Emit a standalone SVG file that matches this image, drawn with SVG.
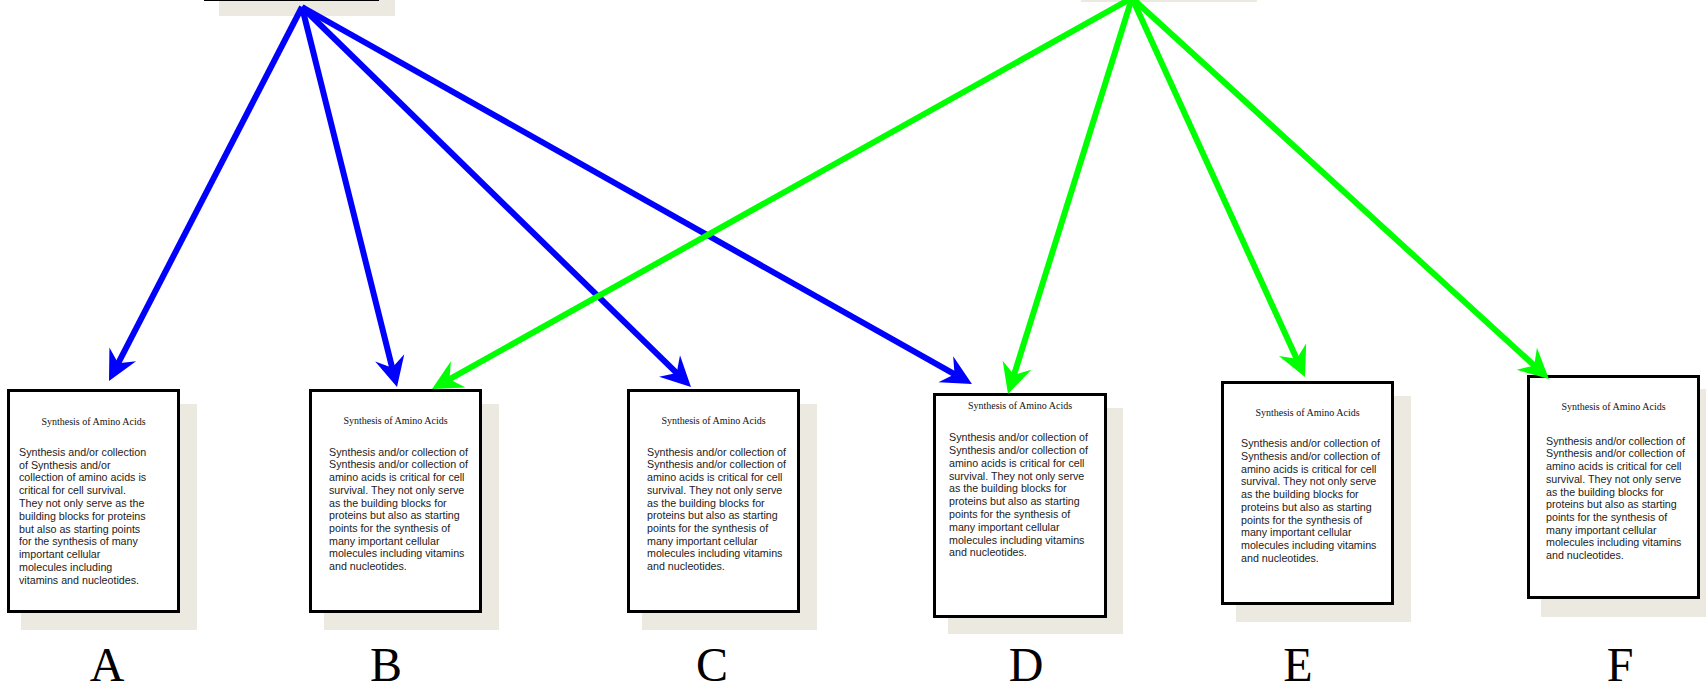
<svg xmlns="http://www.w3.org/2000/svg" width="1706" height="685" viewBox="0 0 1706 685">
<style>
.bg{fill:#ffffff}
.shadow{fill:#ECEAE0}
.box{fill:#ffffff;stroke:#000000;stroke-width:3}
.title{font-family:"Liberation Serif","Times New Roman",serif;font-size:10px;fill:#111;text-anchor:middle}
.body{font-family:"Liberation Sans",Arial,sans-serif;font-size:10.7px;fill:#222}
.label{font-family:"Liberation Serif","Times New Roman",serif;font-size:48px;fill:#000;text-anchor:middle}
.blue{stroke:#0000ff;stroke-width:6;fill:none;marker-end:url(#ab)}
.green{stroke:#00ff00;stroke-width:6;fill:none;marker-end:url(#ag)}
</style>
<defs>
<marker id="ab" markerUnits="userSpaceOnUse" orient="auto" refX="0" refY="0" markerWidth="60" markerHeight="60" overflow="visible"><path d="M12,0 L-18,-15 L-8,0 L-18,15 Z" fill="#0000ff"/></marker>
<marker id="ag" markerUnits="userSpaceOnUse" orient="auto" refX="0" refY="0" markerWidth="60" markerHeight="60" overflow="visible"><path d="M12,0 L-18,-15 L-8,0 L-18,15 Z" fill="#00ff00"/></marker>
</defs>
<rect class="bg" x="0" y="0" width="1706" height="685"/>

<g id="top-left">
<rect class="shadow" x="219" y="-210" width="176" height="226"/>
<rect class="box" x="205.5" y="-220" width="172" height="219.5"/>
</g>
<g id="top-right">
<rect class="shadow" x="1081" y="-224" width="176" height="226"/>
<rect class="box" x="1067.5" y="-236" width="172" height="221"/>
</g>

<g id="node-A">
<rect class="shadow" x="21" y="404" width="176" height="226"/>
<rect class="box" x="8.5" y="390.5" width="170" height="221"/>
<text class="title" x="93.5" y="425">Synthesis of Amino Acids</text>
<text class="body" x="19" y="455.7"><tspan x="19">Synthesis and/or collection</tspan><tspan x="19" dy="12.8">of Synthesis and/or</tspan><tspan x="19" dy="12.8">collection of amino acids is</tspan><tspan x="19" dy="12.8">critical for cell survival.</tspan><tspan x="19" dy="12.8">They not only serve as the</tspan><tspan x="19" dy="12.8">building blocks for proteins</tspan><tspan x="19" dy="12.8">but also as starting points</tspan><tspan x="19" dy="12.8">for the synthesis of many</tspan><tspan x="19" dy="12.8">important cellular</tspan><tspan x="19" dy="12.8">molecules including</tspan><tspan x="19" dy="12.8">vitamins and nucleotides.</tspan></text>
<text class="label" x="107" y="681">A</text>
</g>

<g id="node-B">
<rect class="shadow" x="324" y="404" width="175" height="226"/>
<rect class="box" x="310.5" y="390.5" width="170" height="221"/>
<text class="title" x="395.5" y="424">Synthesis of Amino Acids</text>
<text class="body" x="329" y="455.7"><tspan x="329">Synthesis and/or collection of</tspan><tspan x="329" dy="12.7">Synthesis and/or collection of</tspan><tspan x="329" dy="12.7">amino acids is critical for cell</tspan><tspan x="329" dy="12.7">survival. They not only serve</tspan><tspan x="329" dy="12.7">as the building blocks for</tspan><tspan x="329" dy="12.7">proteins but also as starting</tspan><tspan x="329" dy="12.7">points for the synthesis of</tspan><tspan x="329" dy="12.7">many important cellular</tspan><tspan x="329" dy="12.7">molecules including vitamins</tspan><tspan x="329" dy="12.7">and nucleotides.</tspan></text>
<text class="label" x="386" y="681">B</text>
</g>

<g id="node-C">
<rect class="shadow" x="642" y="404" width="175" height="226"/>
<rect class="box" x="628.5" y="390.5" width="170" height="221"/>
<text class="title" x="713.5" y="423.5">Synthesis of Amino Acids</text>
<text class="body" x="647" y="455.7"><tspan x="647">Synthesis and/or collection of</tspan><tspan x="647" dy="12.7">Synthesis and/or collection of</tspan><tspan x="647" dy="12.7">amino acids is critical for cell</tspan><tspan x="647" dy="12.7">survival. They not only serve</tspan><tspan x="647" dy="12.7">as the building blocks for</tspan><tspan x="647" dy="12.7">proteins but also as starting</tspan><tspan x="647" dy="12.7">points for the synthesis of</tspan><tspan x="647" dy="12.7">many important cellular</tspan><tspan x="647" dy="12.7">molecules including vitamins</tspan><tspan x="647" dy="12.7">and nucleotides.</tspan></text>
<text class="label" x="712" y="681">C</text>
</g>

<g id="node-D">
<rect class="shadow" x="948" y="408" width="175" height="226"/>
<rect class="box" x="934.5" y="394.5" width="171" height="222"/>
<text class="title" x="1020" y="408.5">Synthesis of Amino Acids</text>
<text class="body" x="949" y="441.3"><tspan x="949">Synthesis and/or collection of</tspan><tspan x="949" dy="12.78">Synthesis and/or collection of</tspan><tspan x="949" dy="12.78">amino acids is critical for cell</tspan><tspan x="949" dy="12.78">survival. They not only serve</tspan><tspan x="949" dy="12.78">as the building blocks for</tspan><tspan x="949" dy="12.78">proteins but also as starting</tspan><tspan x="949" dy="12.78">points for the synthesis of</tspan><tspan x="949" dy="12.78">many important cellular</tspan><tspan x="949" dy="12.78">molecules including vitamins</tspan><tspan x="949" dy="12.78">and nucleotides.</tspan></text>
<text class="label" x="1026" y="681">D</text>
</g>

<g id="node-E">
<rect class="shadow" x="1236" y="396" width="175" height="226"/>
<rect class="box" x="1222.5" y="382.5" width="170" height="221"/>
<text class="title" x="1307.5" y="416">Synthesis of Amino Acids</text>
<text class="body" x="1241" y="447.3"><tspan x="1241">Synthesis and/or collection of</tspan><tspan x="1241" dy="12.7">Synthesis and/or collection of</tspan><tspan x="1241" dy="12.7">amino acids is critical for cell</tspan><tspan x="1241" dy="12.7">survival. They not only serve</tspan><tspan x="1241" dy="12.7">as the building blocks for</tspan><tspan x="1241" dy="12.7">proteins but also as starting</tspan><tspan x="1241" dy="12.7">points for the synthesis of</tspan><tspan x="1241" dy="12.7">many important cellular</tspan><tspan x="1241" dy="12.7">molecules including vitamins</tspan><tspan x="1241" dy="12.7">and nucleotides.</tspan></text>
<text class="label" x="1298" y="681">E</text>
</g>

<g id="node-F">
<rect class="shadow" x="1541" y="389" width="175" height="228"/>
<rect class="box" x="1528.5" y="376.5" width="170" height="221"/>
<text class="title" x="1613.5" y="410">Synthesis of Amino Acids</text>
<text class="body" x="1546" y="444.7"><tspan x="1546">Synthesis and/or collection of</tspan><tspan x="1546" dy="12.7">Synthesis and/or collection of</tspan><tspan x="1546" dy="12.7">amino acids is critical for cell</tspan><tspan x="1546" dy="12.7">survival. They not only serve</tspan><tspan x="1546" dy="12.7">as the building blocks for</tspan><tspan x="1546" dy="12.7">proteins but also as starting</tspan><tspan x="1546" dy="12.7">points for the synthesis of</tspan><tspan x="1546" dy="12.7">many important cellular</tspan><tspan x="1546" dy="12.7">molecules including vitamins</tspan><tspan x="1546" dy="12.7">and nucleotides.</tspan></text>
<text class="label" x="1620" y="681">F</text>
</g>

<g id="connectors">
<line class="blue" x1="302" y1="7" x2="114.5" y2="370.3"/>
<line class="blue" x1="302" y1="7" x2="394.1" y2="375.4"/>
<line class="blue" x1="302" y1="7" x2="682.4" y2="378.6"/>
<line class="blue" x1="302" y1="7" x2="961.5" y2="378.1"/>
<line class="green" x1="1132" y1="-2" x2="442.5" y2="383.1"/>
<line class="green" x1="1132" y1="-2" x2="1011.6" y2="382.5"/>
<line class="green" x1="1132" y1="-2" x2="1300" y2="366.1"/>
<line class="green" x1="1132" y1="-2" x2="1540.1" y2="370.9"/>
</g>
</svg>
